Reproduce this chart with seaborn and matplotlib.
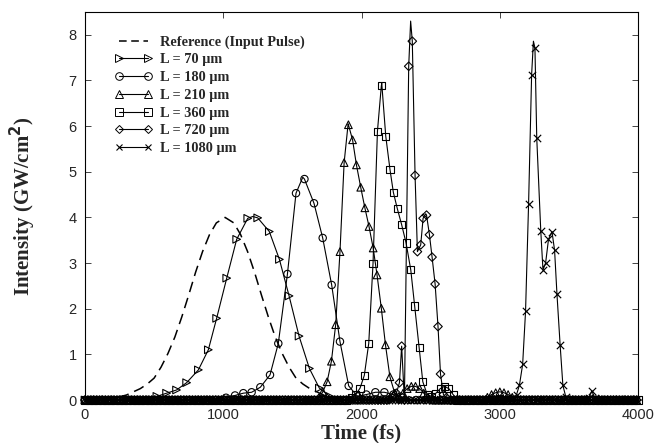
import numpy as np
import pandas as pd
import matplotlib
matplotlib.use("Agg")
import matplotlib.pyplot as plt
from matplotlib.lines import Line2D
import seaborn as sns

# ---------------- data ----------------
ref_t = [0, 200, 300, 400, 450, 500, 550, 600, 650, 700, 750, 800, 850, 900, 950, 1013,
         1076, 1126, 1176, 1226, 1276, 1326, 1376, 1426, 1476, 1526, 1576, 1626, 1726, 1826, 1950, 4000]
ref_i = [0, 0.03, 0.11, 0.25, 0.35, 0.48, 0.72, 1.02, 1.38, 1.82, 2.30, 2.80, 3.25, 3.62, 3.88, 4.00,
         3.88, 3.62, 3.25, 2.80, 2.30, 1.82, 1.38, 1.02, 0.72, 0.48, 0.35, 0.25, 0.11, 0.03, 0, 0]

l70_t = [520, 590, 662, 735, 820, 892, 952, 1025, 1097, 1177, 1249, 1333, 1406, 1476, 1548, 1623, 1695, 1770]
l70_i = [0.08, 0.15, 0.22, 0.38, 0.66, 1.10, 1.79, 2.67, 3.52, 3.98, 3.99, 3.69, 3.08, 2.28, 1.40, 0.69, 0.26, 0.08]
l70_peak_t, l70_peak_i = [1213], [4.02]

l180_t = [1020, 1085, 1145, 1205, 1268, 1338, 1398, 1464, 1526, 1587, 1656, 1719, 1784, 1844, 1907,
          1970, 2035, 2100, 2165, 2230, 2295]
l180_i = [0.05, 0.10, 0.15, 0.17, 0.28, 0.55, 1.24, 2.76, 4.53, 4.84, 4.31, 3.55, 2.52, 1.28, 0.31,
          0.08, 0.12, 0.17, 0.17, 0.12, 0.05]
l180_peak_t, l180_peak_i = [1575], [4.88]

l210_t = [1690, 1720, 1751, 1782, 1813, 1844, 1874, 1905, 1935, 1963, 1994, 2024, 2054, 2084, 2112,
          2143, 2173, 2205, 2240, 2270, 2300, 2330, 2360, 2390, 2420, 2450, 2480,
          2910, 2940, 2970, 3000, 3030, 3060, 3090]
l210_i = [0.05, 0.18, 0.40, 0.85, 1.65, 3.25, 5.20, 6.03, 5.70, 5.15, 4.66, 4.21, 3.80, 3.33, 2.74,
          2.01, 1.21, 0.51, 0.15, 0.08, 0.15, 0.25, 0.30, 0.30, 0.25, 0.15, 0.06,
          0.06, 0.12, 0.16, 0.18, 0.16, 0.12, 0.06]
l210_peak_t, l210_peak_i = [1903], [6.05]

l360_t = [1925, 1958, 1989, 2020, 2052, 2083, 2115, 2143, 2175, 2206, 2230, 2258, 2290, 2322, 2356,
          2384, 2416, 2443, 2475, 2507, 2538, 2569, 2600, 2631, 2662]
l360_i = [0.05, 0.12, 0.26, 0.54, 1.24, 2.99, 5.89, 6.88, 5.78, 5.04, 4.55, 4.20, 3.84, 3.44, 2.85,
          2.06, 1.16, 0.40, 0.12, 0.08, 0.15, 0.25, 0.30, 0.25, 0.12]
l360_peak_t, l360_peak_i = [2146], [6.94]

l720_t = [2205, 2230, 2252, 2274, 2290, 2341, 2367, 2387, 2404, 2428, 2445, 2470, 2491, 2510, 2532,
          2553, 2571, 2592, 2613]
l720_i = [0.03, 0.08, 0.15, 0.38, 1.18, 7.31, 7.86, 4.92, 3.25, 3.40, 3.98, 4.05, 3.62, 3.13, 2.54,
          1.61, 0.57, 0.12, 0.05]
l720_peak_t, l720_peak_i = [2355, 2464], [8.30, 4.08]

l1080_t = [3100, 3121, 3142, 3165, 3186, 3208, 3230, 3254, 3267, 3296, 3312, 3331, 3352, 3377, 3396,
           3413, 3436, 3456, 3478, 3643, 3665, 3687]
l1080_i = [0.04, 0.12, 0.33, 0.78, 1.94, 4.30, 7.13, 7.71, 5.74, 3.71, 2.85, 3.00, 3.52, 3.69, 3.28,
           2.33, 1.21, 0.32, 0.06, 0.05, 0.20, 0.05]
l1080_peak_t, l1080_peak_i = [3243], [7.86]

labels = ["L = 70 \u03bcm", "L = 180 \u03bcm", "L = 210 \u03bcm", "L = 360 \u03bcm",
          "L = 720 \u03bcm", "L = 1080 \u03bcm"]
markers = [">", "o", "^", "s", "D", "x"]
base_steps = [74, 63, 30, 31, 21, 22]   # sampling step of the flat (zero) part of each trace

series = [(l70_t, l70_i, l70_peak_t, l70_peak_i),
          (l180_t, l180_i, l180_peak_t, l180_peak_i),
          (l210_t, l210_i, l210_peak_t, l210_peak_i),
          (l360_t, l360_i, l360_peak_t, l360_peak_i),
          (l720_t, l720_i, l720_peak_t, l720_peak_i),
          (l1080_t, l1080_i, l1080_peak_t, l1080_peak_i)]

# ---------------- style ----------------
sns.set_style("ticks")
plt.rcParams["font.family"] = ["Liberation Sans", "DejaVu Sans"]
plt.rcParams["xtick.direction"] = "in"
plt.rcParams["ytick.direction"] = "in"
plt.rcParams["axes.linewidth"] = 0.8

fig = plt.figure(figsize=(6.64, 4.43), dpi=100)
ax = fig.add_axes([0.128, 0.097, 0.833, 0.876])

serif = ["Liberation Serif", "DejaVu Serif"]

# reference pulse
ref_df = pd.DataFrame({"t": ref_t, "I": ref_i})
sns.lineplot(data=ref_df, x="t", y="I", ax=ax, color="black", linewidth=1.1,
             estimator=None, sort=False)
ax.lines[-1].set_dashes([7, 4])

msize = {">": 30, "o": 28, "^": 30, "s": 26, "D": 19, "x": 28}

for (pt, pi, kt, ki), mk, step in zip(series, markers, base_steps):
    pt = np.asarray(pt, float)
    grid = np.arange(0, 4001, step, dtype=float)
    keep = np.array([np.min(np.abs(pt - g)) > 0.6 * step for g in grid])
    base_t = grid[keep]
    mt = np.concatenate([base_t, pt])
    mi = np.concatenate([np.zeros(len(base_t)), np.asarray(pi, float)])
    mdf = pd.DataFrame({"t": mt, "I": mi}).sort_values("t")
    ldf = pd.concat([mdf, pd.DataFrame({"t": kt, "I": ki})]).sort_values("t")
    sns.lineplot(data=ldf, x="t", y="I", ax=ax, color="black", linewidth=0.8,
                 estimator=None, sort=False)
    if mk == "x":
        sns.scatterplot(data=mdf, x="t", y="I", ax=ax, marker="x", color="black",
                        s=msize[mk], linewidth=0.85, zorder=3, clip_on=False)
    else:
        sns.scatterplot(data=mdf, x="t", y="I", ax=ax, marker=mk, facecolor="none",
                        edgecolor="black", s=msize[mk], linewidth=0.8, zorder=3, clip_on=False)

ax.set_xlim(0, 4000)
ax.set_ylim(0, 8.5)
ax.set_xticks([0, 1000, 2000, 3000, 4000])
ax.set_yticks(range(0, 9))
ax.tick_params(axis="both", which="major", direction="in", length=4, width=0.6,
               labelsize=10.5, top=True, right=True, pad=6)
for s in ax.spines.values():
    s.set_visible(True)
    s.set_color("black")
    s.set_linewidth(0.8)

ax.set_xlabel("Time (fs)", fontfamily=serif, fontweight="bold", fontsize=15, labelpad=1)
ax.set_ylabel("Intensity (GW/cm$^\\mathbf{2}$)", fontfamily=serif, fontweight="bold",
              fontsize=15, labelpad=22)

# legend proxies
handles = [Line2D([0], [0], color="black", lw=1.1, dashes=[5, 3])]
for mk in markers:
    if mk == "x":
        handles.append(Line2D([0], [0], color="black", lw=0.8, marker="x", ms=5, mew=0.8))
    else:
        handles.append(Line2D([0], [0], color="black", lw=0.8, marker=mk,
                              ms=4.5 if mk == "D" else 5.5,
                              mfc="none", mec="black", mew=0.7))
leg = ax.legend(handles, ["Reference (Input Pulse)"] + labels, loc="upper left",
                bbox_to_anchor=(0.054, 0.940), frameon=False, numpoints=2,
                borderpad=0, borderaxespad=0, handlelength=2.6, handletextpad=0.55,
                labelspacing=0.33, prop={"family": serif, "weight": "bold", "size": 10.3})

fig.savefig("out.png", dpi=100)
